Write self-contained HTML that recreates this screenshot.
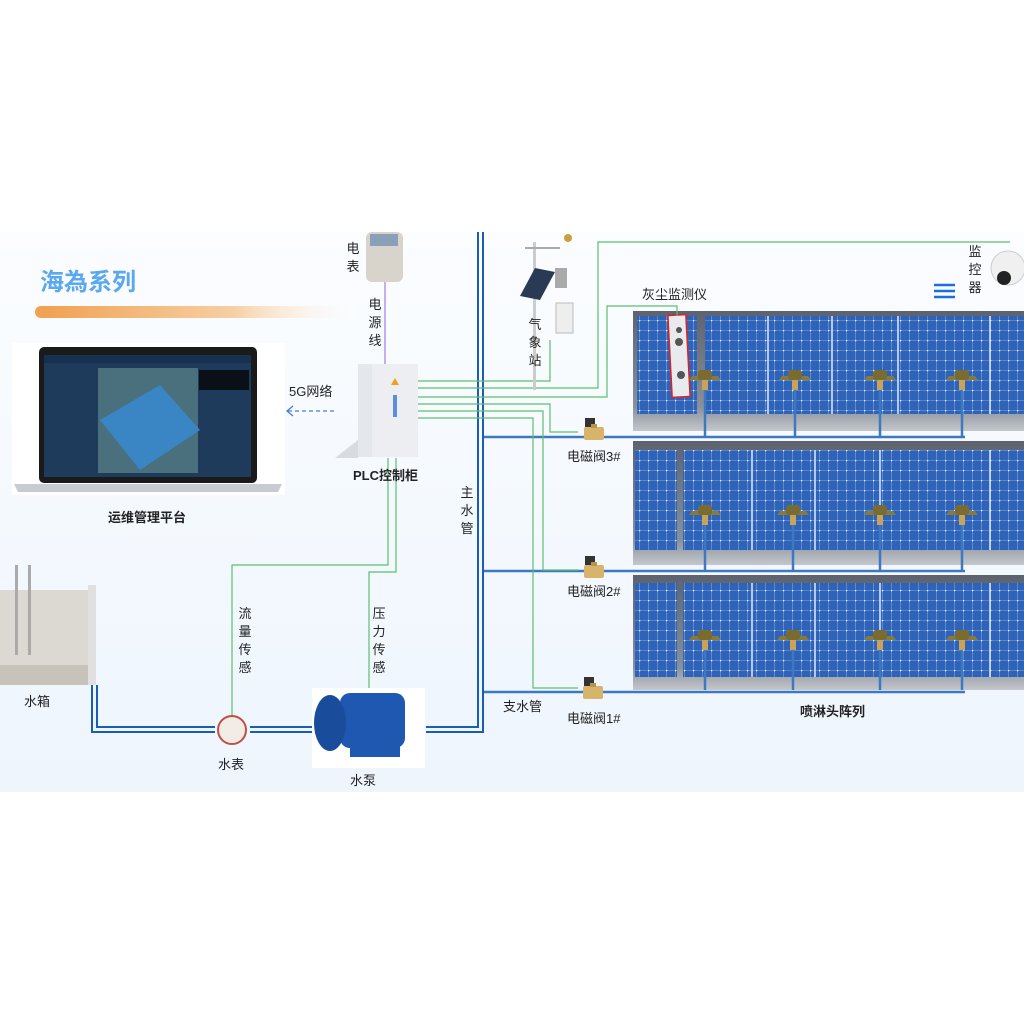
<!DOCTYPE html>
<html><head><meta charset="utf-8"><style>
body{margin:0;width:1024px;height:1024px;background:#fff;position:relative;overflow:hidden;font-family:"Liberation Sans","Noto Sans CJK SC",sans-serif;}
.t{position:absolute;font-size:13px;color:#222;line-height:17px;}
.v{width:14px;text-align:center;line-height:18px;}
.b{font-weight:bold;}
</style></head><body>
<svg width="1024" height="1024" style="position:absolute;left:0;top:0">
<defs>
<linearGradient id="bg" x1="0" y1="0" x2="0" y2="1"><stop offset="0" stop-color="#fbfdff"/><stop offset="1" stop-color="#eef5fd"/></linearGradient>
<linearGradient id="og" x1="0" y1="0" x2="1" y2="0"><stop offset="0" stop-color="#f0a050"/><stop offset="0.6" stop-color="#f7cfa3"/><stop offset="1" stop-color="#fff" stop-opacity="0"/></linearGradient>
<linearGradient id="fr" x1="0" y1="0" x2="0" y2="1"><stop offset="0" stop-color="#5c636e"/><stop offset="0.8" stop-color="#8a9099"/><stop offset="1" stop-color="#c4c8cd"/></linearGradient>
<pattern id="cell" width="9" height="10" patternUnits="userSpaceOnUse"><rect width="9" height="10" fill="#2f63b8"/><path d="M0 0.5H9M0.5 0V10" stroke="#7ea4dc" stroke-width="0.6"/><circle cx="0.5" cy="0.5" r="0.9" fill="#e8f0ff"/></pattern>
<g id="spr"><path d="M-13 -4 L13 -4 L16 0 L-16 0Z" fill="#8a7a3a"/><rect x="-7" y="-10" width="14" height="10" rx="3" fill="#7a6c30"/><rect x="-3" y="0" width="6" height="10" fill="#c9a35a"/></g>
<g id="valve"><rect x="-9" y="-12" width="10" height="9" fill="#333"/><rect x="-10" y="-3" width="20" height="13" rx="2" fill="#d8b46a"/><rect x="-3" y="-6" width="6" height="4" fill="#b8944a"/></g>
</defs>
<rect x="0" y="232" width="1024" height="560" fill="url(#bg)"/>
<rect x="35" y="306" width="330" height="12" rx="6" fill="url(#og)"/>
<rect x="633" y="311" width="391" height="120" fill="url(#fr)"/>
<rect x="637" y="316" width="60" height="98" fill="url(#cell)"/><rect x="705" y="316" width="258" height="98" fill="url(#cell)"/><rect x="946" y="316" width="78" height="98" fill="url(#cell)"/>
<rect x="633" y="441" width="391" height="124" fill="url(#fr)"/>
<rect x="635" y="450" width="42" height="100" fill="url(#cell)"/><rect x="683" y="450" width="275" height="100" fill="url(#cell)"/><rect x="944" y="450" width="80" height="100" fill="url(#cell)"/>
<rect x="633" y="575" width="391" height="115" fill="url(#fr)"/>
<rect x="635" y="583" width="42" height="94" fill="url(#cell)"/><rect x="683" y="583" width="275" height="94" fill="url(#cell)"/><rect x="944" y="583" width="80" height="94" fill="url(#cell)"/>
<g stroke="#dfeaff" stroke-width="1.5">
<path d="M768 316V414M832 316V414M898 316V414M990 316V414"/>
<path d="M752 450V550M815 450V550M880 450V550M990 450V550"/>
<path d="M752 583V677M815 583V677M880 583V677M990 583V677"/>
</g>
<rect x="670" y="315" width="18" height="82" fill="#e8eaee" stroke="#d22" stroke-width="1.5" transform="rotate(-3 679 356)"/>
<circle cx="679" cy="330" r="3" fill="#555"/><circle cx="679" cy="342" r="4" fill="#555"/><circle cx="681" cy="375" r="4" fill="#555"/>
<g stroke="#3d78c0" stroke-width="2.5" fill="none">
<path d="M705 390V437M795 390V437M880 390V437M962 390V437"/>
<path d="M705 525V571M793 525V571M880 525V571M962 525V571"/>
<path d="M705 650V690M793 650V690M880 650V690M962 650V690"/>
<path d="M483 437H965M483 571H965M483 692H965"/>
</g>
<use href="#spr" x="705" y="380"/><use href="#spr" x="795" y="380"/><use href="#spr" x="880" y="380"/><use href="#spr" x="962" y="380"/>
<use href="#spr" x="705" y="515"/><use href="#spr" x="793" y="515"/><use href="#spr" x="880" y="515"/><use href="#spr" x="962" y="515"/>
<use href="#spr" x="705" y="640"/><use href="#spr" x="793" y="640"/><use href="#spr" x="880" y="640"/><use href="#spr" x="962" y="640"/>
<g stroke="#1a5db8" stroke-width="2" fill="none">
<path d="M478 232V727H426M483 232V732H426"/>
<path d="M92 685V732H215M97 685V727H215M250 727H312M250 732H312"/>
</g>
<g stroke="#5cbf6e" stroke-width="1.2" fill="none">
<path d="M418 381H550V340"/>
<path d="M418 388H598V242H1010"/>
<path d="M418 397H607V306H677V316"/>
<path d="M418 404H550V432H578"/>
<path d="M418 411H543V570H578"/>
<path d="M418 418H533V688H578"/>
<path d="M388 458V565H232V720"/>
<path d="M396 458V572H369V693"/>
</g>
<path d="M385 280V365" stroke="#a07de0" stroke-width="1.2"/>
<path d="M288 411H335" stroke="#4a7fd0" stroke-width="1.3" stroke-dasharray="4 3"/>
<path d="M293 406L287 411L293 416" stroke="#4a7fd0" fill="none" stroke-width="1.3"/>
<use href="#valve" x="594" y="430"/><use href="#valve" x="594" y="568"/><use href="#valve" x="593" y="689"/>
<rect x="12" y="343" width="273" height="152" fill="#fff"/>
<rect x="39" y="347" width="218" height="136" rx="5" fill="#1a1a1a"/>
<rect x="44" y="355" width="207" height="122" fill="#1f3b5c"/>
<rect x="98" y="368" width="100" height="105" fill="#4a6f7d"/>
<polygon points="100,420 160,385 200,430 140,470" fill="#3a86c4"/>
<rect x="44" y="355" width="207" height="8" fill="#173050"/>
<rect x="199" y="370" width="50" height="20" fill="#0b0f18"/>
<path d="M14 484H282L278 492H18Z" fill="#c8ccd2"/>
<polygon points="335,458 358,440 358,458" fill="#d8dbe0"/>
<rect x="358" y="364" width="60" height="93" fill="#e4e7ec"/>
<rect x="372" y="364" width="46" height="93" fill="#eceef2"/>
<rect x="393" y="395" width="4" height="22" fill="#5a8fe0"/>
<polygon points="395,378 399,385 391,385" fill="#f0a020"/>
<rect x="366" y="232" width="37" height="50" rx="6" fill="#d8d4cc"/>
<rect x="370" y="234" width="28" height="12" fill="#8aa0b8"/>
<rect x="533" y="242" width="3" height="148" fill="#ccc"/>
<polygon points="520,296 535,268 555,272 540,300" fill="#2a3a55"/>
<rect x="556" y="303" width="17" height="30" fill="#eee" stroke="#bbb"/>
<rect x="555" y="268" width="12" height="20" fill="#aaa"/>
<path d="M525 248H560" stroke="#aaa" stroke-width="2"/>
<circle cx="568" cy="238" r="4" fill="#c9a040"/>
<circle cx="1008" cy="268" r="17" fill="#f0f0f0" stroke="#ccc"/>
<circle cx="1004" cy="278" r="7" fill="#222"/>
<path d="M934 285H955M934 291H955M934 297H955" stroke="#1a6fe0" stroke-width="2.5"/>
<rect x="0" y="590" width="92" height="75" fill="#dcd9d2"/>
<rect x="0" y="665" width="92" height="20" fill="#c7c3ba"/>
<rect x="15" y="565" width="3" height="90" fill="#aaa"/><rect x="28" y="565" width="3" height="90" fill="#aaa"/>
<rect x="88" y="585" width="8" height="100" fill="#e0e0e0"/>
<circle cx="232" cy="730" r="14" fill="#f3ece6" stroke="#c05040" stroke-width="2"/>
<rect x="312" y="688" width="113" height="80" fill="#fff"/>
<rect x="340" y="693" width="65" height="55" rx="10" fill="#1e58b0"/>
<ellipse cx="330" cy="723" rx="16" ry="28" fill="#1a4c9c"/>
<rect x="350" y="745" width="50" height="12" fill="#1e58b0"/>
</svg>
<div class="t" style="left:40px;top:268px;font-size:24px;line-height:30px;font-weight:bold;color:#5aa8ee;">海為系列</div>
<div class="t v" style="left:346px;top:240px;">电<br>表</div>
<div class="t v" style="left:368px;top:296px;">电<br>源<br>线</div>
<div class="t" style="left:289px;top:383px;">5G网络</div>
<div class="t b" style="left:353px;top:467px;">PLC控制柜</div>
<div class="t b" style="left:108px;top:509px;">运维管理平台</div>
<div class="t v" style="left:460px;top:484px;">主<br>水<br>管</div>
<div class="t v" style="left:528px;top:316px;">气<br>象<br>站</div>
<div class="t" style="left:642px;top:286px;">灰尘监测仪</div>
<div class="t v" style="left:968px;top:243px;">监<br>控<br>器</div>
<div class="t" style="left:567px;top:448px;">电磁阀3#</div>
<div class="t" style="left:567px;top:583px;">电磁阀2#</div>
<div class="t" style="left:567px;top:710px;">电磁阀1#</div>
<div class="t" style="left:503px;top:698px;">支水管</div>
<div class="t b" style="left:800px;top:703px;">喷淋头阵列</div>
<div class="t v" style="left:238px;top:605px;">流<br>量<br>传<br>感</div>
<div class="t v" style="left:372px;top:605px;">压<br>力<br>传<br>感</div>
<div class="t" style="left:24px;top:693px;">水箱</div>
<div class="t" style="left:218px;top:756px;">水表</div>
<div class="t" style="left:350px;top:772px;">水泵</div>
</body></html>
